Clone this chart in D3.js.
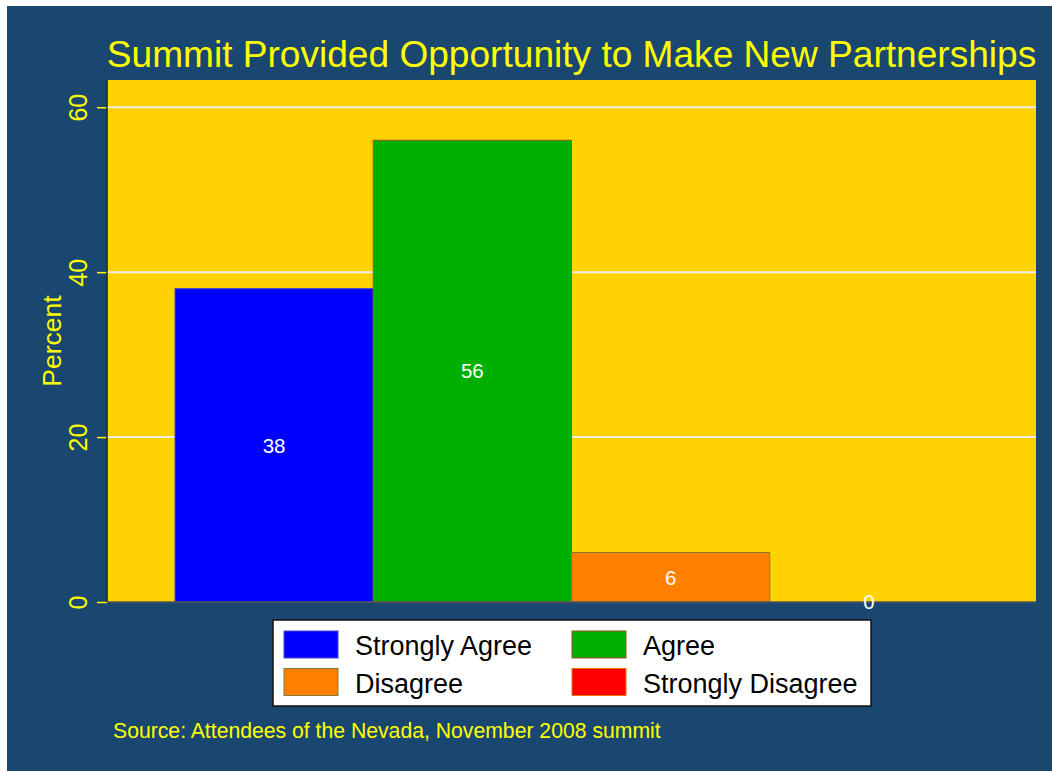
<!DOCTYPE html>
<html lang="en">
<head>
<meta charset="UTF-8">
<title>Summit Provided Opportunity to Make New Partnerships</title>
<script src="https://d3js.org/d3.v7.min.js"></script>
<style>
    body {
        margin: 0;
        padding: 0;
        background: #fff;
        overflow: hidden;
    }
    svg text {
        font-family: "Liberation Sans", Arial, sans-serif;
    }
</style>
</head>
<body>
<div id="chart"></div>
<script>
    // data
    const categories = ["Strongly Agree", "Agree", "Disagree", "Strongly Disagree"];
    const percents = [38, 56, 6, 0];
    const barColors = ["#0000ff", "#00b000", "#ff8000", "#ff0000"];
    const barOutlines = ["#4848c8", "#a0502a", "#7c7c40", "#e07a00"];
    const yTicks = [0, 20, 40, 60];

    const width = 1052, height = 771;
    const plot = { left: 107, right: 1036, top: 80, bottom: 602 };

    const svg = d3.select("#chart").append("svg")
        .attr("width", width)
        .attr("height", height);

    // navy background with a thin white margin top/left
    svg.append("rect")
        .attr("x", 7).attr("y", 6)
        .attr("width", width - 7).attr("height", height - 6)
        .attr("fill", "#1a476f");

    svg.append("rect")
        .attr("x", plot.left).attr("y", plot.top)
        .attr("width", plot.right - plot.left)
        .attr("height", plot.bottom - plot.top)
        .attr("fill", "#ffd200");

    const y = d3.scaleLinear()
        .domain([0, 63.3])
        .range([plot.bottom, plot.top]);

    const x = d3.scaleBand()
        .domain(categories)
        .range([175, 968])
        .padding(0);

    // gridlines
    svg.append("g")
        .selectAll("line")
        .data(yTicks.filter(d => d > 0))
        .join("line")
        .attr("x1", plot.left).attr("x2", plot.right)
        .attr("y1", d => y(d)).attr("y2", d => y(d))
        .attr("stroke", "#eeeeee")
        .attr("stroke-width", 2);

    // bars
    svg.append("g")
        .selectAll("rect")
        .data(categories)
        .join("rect")
        .attr("x", d => x(d))
        .attr("y", (d, i) => y(percents[i]))
        .attr("width", x.bandwidth())
        .attr("height", (d, i) => y(0) - y(percents[i]))
        .attr("fill", (d, i) => barColors[i])
        .attr("stroke", (d, i) => barOutlines[i])
        .attr("stroke-width", 1);

    // y axis
    const yAxis = d3.axisLeft(y)
        .tickValues(yTicks)
        .tickSize(10)
        .tickPadding(0)
        .tickFormat(d3.format("d"));

    const ga = svg.append("g")
        .attr("transform", `translate(${plot.left},0)`)
        .call(yAxis);
    ga.select(".domain").remove();
    ga.selectAll(".tick line")
        .attr("stroke", "#ffff00")
        .attr("stroke-width", 1.5);
    ga.selectAll(".tick text")
        .attr("fill", "#ffff00")
        .attr("font-size", 25)
        .attr("text-anchor", "middle")
        .attr("dy", 0)
        .attr("x", 0)
        .attr("y", 0)
        .attr("transform", "translate(-20,0) rotate(-90)");

    // axis lines
    svg.append("line")
        .attr("x1", plot.left).attr("x2", plot.left)
        .attr("y1", plot.top).attr("y2", plot.bottom)
        .attr("stroke", "#222").attr("stroke-width", 1.5);
    svg.append("line")
        .attr("x1", plot.left).attr("x2", plot.right)
        .attr("y1", plot.bottom).attr("y2", plot.bottom)
        .attr("stroke", "#555").attr("stroke-width", 1.5);

    // value labels in bar middles
    svg.append("g")
        .selectAll("text")
        .data(categories)
        .join("text")
        .attr("x", d => x(d) + x.bandwidth() / 2)
        .attr("y", (d, i) => (y(percents[i]) + y(0)) / 2)
        .attr("dy", "0.36em")
        .attr("text-anchor", "middle")
        .attr("font-size", 20.5)
        .attr("fill", "#ffffff")
        .text((d, i) => percents[i]);

    // y title
    svg.append("text")
        .attr("transform", `translate(61,${(plot.top + plot.bottom) / 2}) rotate(-90)`)
        .attr("text-anchor", "middle")
        .attr("font-size", 26.5)
        .attr("fill", "#ffff00")
        .text("Percent");

    // title
    svg.append("text")
        .attr("x", (plot.left + plot.right) / 2)
        .attr("y", 67)
        .attr("text-anchor", "middle")
        .attr("font-size", 37.1)
        .attr("fill", "#ffff00")
        .text("Summit Provided Opportunity to Make New Partnerships");

    // legend
    const legend = svg.append("g");
    legend.append("rect")
        .attr("x", 273).attr("y", 620)
        .attr("width", 598).attr("height", 86)
        .attr("fill", "#fff")
        .attr("stroke", "#111")
        .attr("stroke-width", 1.5);

    const item = legend.selectAll("g.item")
        .data(categories)
        .join("g")
        .attr("class", "item")
        .attr("transform", (d, i) => `translate(${284 + (i % 2) * 288},${631 + Math.floor(i / 2) * 37.5})`);

    item.append("rect")
        .attr("width", 54).attr("height", 27)
        .attr("fill", (d, i) => barColors[i])
        .attr("stroke", (d, i) => barOutlines[i])
        .attr("stroke-width", 1);

    item.append("text")
        .attr("x", 71).attr("y", 24)
        .attr("font-size", 27)
        .attr("fill", "#000")
        .text(d => d);

    // note
    svg.append("text")
        .attr("x", 113).attr("y", 738)
        .attr("font-size", 21.2)
        .attr("fill", "#ffff00")
        .text("Source: Attendees of the Nevada, November 2008 summit");
</script>
</body>
</html>
